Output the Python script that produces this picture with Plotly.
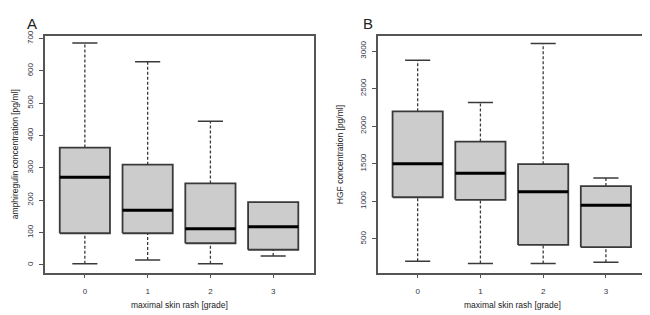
import plotly.graph_objects as go

grades = [0, 1, 2, 3]
x_tick_labels = ["0", "1", "2", "3"]

# Panel A: amphiregulin [pg/ml]
amph_lower = [4, 15, 4, 28]
amph_q1 = [98, 98, 67, 47]
amph_median = [271, 169, 112, 118]
amph_q3 = [363, 310, 252, 194]
amph_upper = [686, 628, 444, 194]
amph_ticks = [0, 100, 200, 300, 400, 500, 600, 700]

# Panel B: HGF [pg/ml]
hgf_lower = [204, 173, 173, 191]
hgf_q1 = [1055, 1020, 421, 391]
hgf_median = [1500, 1373, 1128, 950]
hgf_q3 = [2198, 1796, 1495, 1203]
hgf_upper = [2878, 2315, 3100, 1312]
hgf_ticks = [500, 1000, 1500, 2000, 2500, 3000]

BOX_HALF = 0.4
CAP_HALF = 0.2
FONT = "Liberation Sans, Arial, sans-serif"
BORDER = "#3a3a3a"

fig = go.Figure()


def add_boxes(xa, ya, lower, q1, med, q3, upper):
    for g, lo, a, m, b, up in zip(grades, lower, q1, med, q3, upper):
        if up > b:
            fig.add_trace(go.Scatter(x=[g, g], y=[b, up], mode="lines", xaxis=xa, yaxis=ya,
                                     line=dict(color=BORDER, width=1.3, dash="3px,2px"),
                                     hoverinfo="skip", showlegend=False))
            fig.add_trace(go.Scatter(x=[g - CAP_HALF, g + CAP_HALF], y=[up, up], mode="lines",
                                     xaxis=xa, yaxis=ya, line=dict(color=BORDER, width=1.5),
                                     hoverinfo="skip", showlegend=False))
        if lo < a:
            fig.add_trace(go.Scatter(x=[g, g], y=[lo, a], mode="lines", xaxis=xa, yaxis=ya,
                                     line=dict(color=BORDER, width=1.3, dash="3px,2px"),
                                     hoverinfo="skip", showlegend=False))
            fig.add_trace(go.Scatter(x=[g - CAP_HALF, g + CAP_HALF], y=[lo, lo], mode="lines",
                                     xaxis=xa, yaxis=ya, line=dict(color=BORDER, width=1.5),
                                     hoverinfo="skip", showlegend=False))
        fig.add_trace(go.Scatter(x=[g - BOX_HALF, g + BOX_HALF, g + BOX_HALF, g - BOX_HALF, g - BOX_HALF],
                                 y=[a, a, b, b, a], mode="lines", fill="toself",
                                 fillcolor="#cccccc", xaxis=xa, yaxis=ya,
                                 line=dict(color=BORDER, width=1.8),
                                 hoverinfo="skip", showlegend=False))
        fig.add_trace(go.Scatter(x=[g - BOX_HALF, g + BOX_HALF], y=[m, m], mode="lines",
                                 xaxis=xa, yaxis=ya, line=dict(color="#000000", width=3),
                                 hoverinfo="skip", showlegend=False))


add_boxes("x", "y", amph_lower, amph_q1, amph_median, amph_q3, amph_upper)
add_boxes("x2", "y2", hgf_lower, hgf_q1, hgf_median, hgf_q3, hgf_upper)

# page has an 8px body margin: lay out in a 642x307 figure, shifted by 8px
OFF = 8
W, H = 650 - OFF, 315 - OFF


def px(x):
    return (x - OFF) / W


def py(y):
    return 1 - (y - OFF) / H


top, bottom = 31, 272
ydom = [py(bottom), py(top)]

common_axis = dict(showline=True, linecolor="#555555", linewidth=1.5, mirror=True,
                   ticks="outside", ticklen=4, tickwidth=1, tickcolor="#555555",
                   showgrid=False, zeroline=False,
                   tickfont=dict(family=FONT, size=8, color="#333344"))

fig.update_layout(
    width=W, height=H,
    margin=dict(l=0, r=0, t=0, b=0),
    paper_bgcolor="white", plot_bgcolor="white",
    xaxis=dict(domain=[px(45), px(314)], range=[-0.635, 3.65], tickvals=grades,
               ticktext=x_tick_labels, ticklabelstandoff=6, **common_axis),
    yaxis=dict(domain=ydom, range=[-24, 709], tickvals=amph_ticks, tickangle=-90,
               ticklabelstandoff=3, **common_axis),
    xaxis2=dict(domain=[px(377.7), px(646.7)], range=[-0.637, 3.65], tickvals=grades,
                ticktext=x_tick_labels, ticklabelstandoff=6, anchor="y2", **common_axis),
    yaxis2=dict(domain=ydom, range=[51, 3205], tickvals=hgf_ticks, tickangle=-90,
                ticklabelstandoff=3, anchor="x2", **common_axis),
    annotations=[
        dict(text="A", x=px(25), y=1, xref="paper", yref="paper", showarrow=False,
             xanchor="left", yanchor="top", font=dict(family=FONT, size=15, color="#222")),
        dict(text="B", x=px(361), y=1, xref="paper", yref="paper", showarrow=False,
             xanchor="left", yanchor="top", font=dict(family=FONT, size=15, color="#222")),
        dict(text="amphiregulin concentration [pg/ml]", x=0, y=(ydom[0] + ydom[1]) / 2,
             xref="paper", yref="paper", showarrow=False, textangle=-90,
             xanchor="left", yanchor="middle", font=dict(family=FONT, size=8.5, color="#222")),
        dict(text="HGF concentration [pg/ml]", x=px(340), y=(ydom[0] + ydom[1]) / 2,
             xref="paper", yref="paper", showarrow=False, textangle=-90,
             xanchor="center", yanchor="middle", font=dict(family=FONT, size=8.5, color="#222")),
        dict(text="maximal skin rash [grade]", x=px((45 + 314) / 2), y=py(305),
             xref="paper", yref="paper", showarrow=False,
             xanchor="center", yanchor="middle", font=dict(family=FONT, size=8.5, color="#222")),
        dict(text="maximal skin rash [grade]", x=px((377.7 + 646.7) / 2), y=py(305),
             xref="paper", yref="paper", showarrow=False,
             xanchor="center", yanchor="middle", font=dict(family=FONT, size=8.5, color="#222")),
    ],
)

fig.write_html("out.html")
